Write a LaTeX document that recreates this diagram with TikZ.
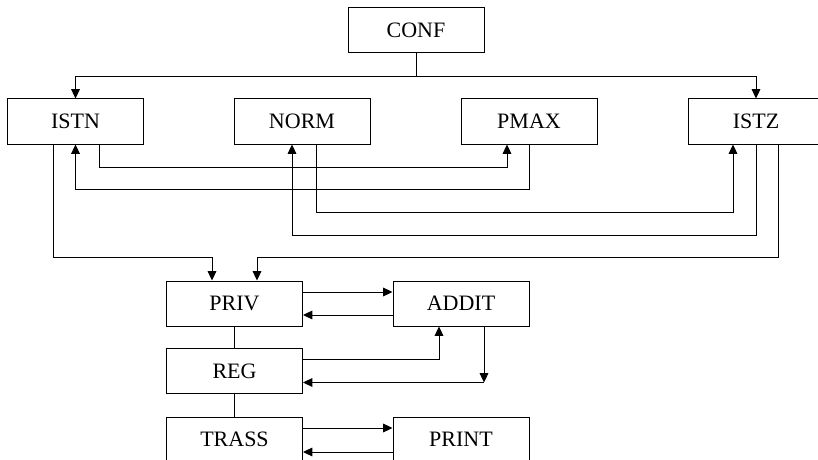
\documentclass[tikz,border=0pt]{standalone}
\usepackage{fontspec}
\setmainfont{Liberation Serif}
\usetikzlibrary{calc,arrows.meta}
\begin{document}
\begin{tikzpicture}[x=0.75pt,y=-0.75pt,
  box/.style={draw,line width=0.75pt,minimum width=102pt,minimum height=33.75pt,inner sep=0pt,font=\fontsize{16.5pt}{18pt}\selectfont},
  conn/.style={line width=0.75pt},
  arr/.style={conn,-{Triangle[length=7pt,width=6.5pt]}}]
\useasboundingbox (0,0) rectangle (818,460);
\node[box] (CONF) at (416,30.5) {CONF};
\node[box] (ISTN) at (75.5,121.5) {ISTN};
\node[box] (NORM) at (302,121.5) {NORM};
\node[box] (PMAX) at (529,121.5) {PMAX};
\node[box] (ISTZ) at (756,121.5) {ISTZ};
\node[box] (PRIV) at (234.5,303.5) {PRIV};
\node[box] (ADDIT) at (461,303.5) {ADDIT};
\node[box] (REG) at (234.5,371) {REG};
\node[box] (TRASS) at (234.5,439.5) {TRASS};
\node[box] (PRINT) at (461,439.5) {PRINT};
% CONF fan-out
\coordinate (j) at ($(CONF.south)+(0,23)$);
\draw[conn] (CONF.south) -- (j);
\draw[arr] (j) -| (ISTN.north);
\draw[arr] (j) -| (ISTZ.north);
% cross links
\draw[arr] ($(ISTN.south)+(23.5,0)$) -- ++(0,23) -| ($(PMAX.south)+(-22,0)$);
\draw[arr] (PMAX.south) -- ++(0,45) -| (ISTN.south);
\draw[arr] ($(NORM.south)+(14,0)$) -- ++(0,68) -| ($(ISTZ.south)+(-23,0)$);
\draw[arr] (ISTZ.south) -- ++(0,91) -| ($(NORM.south)+(-10,0)$);
\draw[arr] ($(ISTN.south)+(-22.5,0)$) -- ++(0,113) -| ($(PRIV.north)+(-22.5,0)$);
\draw[arr] ($(ISTZ.south)+(22,0)$) -- ++(0,113) -| ($(PRIV.north)+(22.5,0)$);
% lower part
\draw[arr] ($(PRIV.east)+(0,-11.5)$) -- ($(ADDIT.west)+(0,-11.5)$);
\draw[arr] ($(ADDIT.west)+(0,11.5)$) -- ($(PRIV.east)+(0,11.5)$);
\draw[conn] (PRIV.south) -- (REG.north);
\draw[conn] (REG.south) -- (TRASS.north);
\draw[arr] ($(REG.east)+(0,-12)$) -| ($(ADDIT.south)+(-22,0)$);
\coordinate (k) at ($(ADDIT.south)+(23,56)$);
\draw[arr] ($(ADDIT.south)+(23,0)$) -- (k);
\draw[arr] (k) -- (REG.east |- k);
\draw[arr] ($(TRASS.east)+(0,-11.5)$) -- ($(PRINT.west)+(0,-11.5)$);
\draw[arr] ($(PRINT.west)+(0,12.5)$) -- ($(TRASS.east)+(0,12.5)$);
\end{tikzpicture}
\end{document}
